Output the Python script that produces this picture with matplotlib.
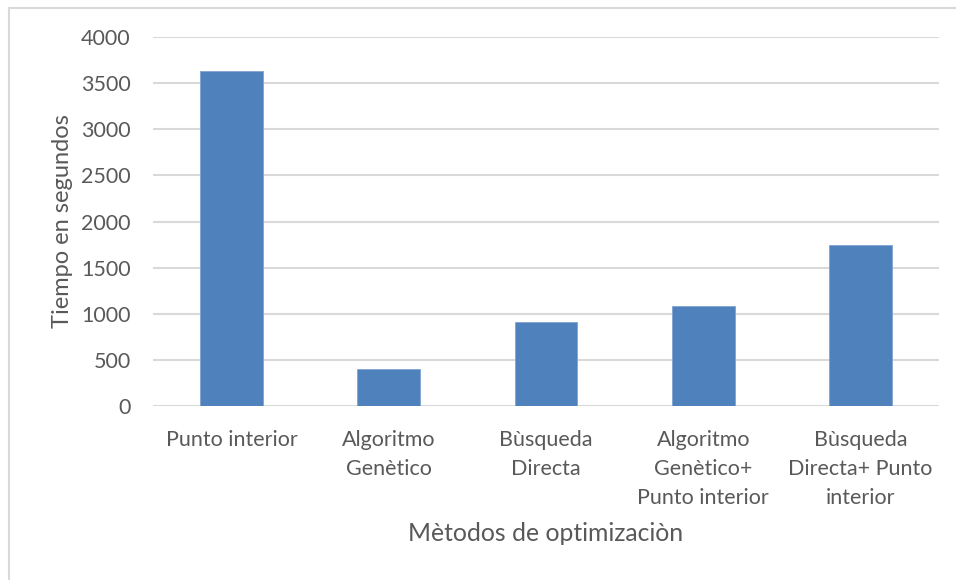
import matplotlib
matplotlib.use("Agg")
import matplotlib.pyplot as plt
from matplotlib.patches import Rectangle

plt.rcParams['font.family'] = ['Lato', 'DejaVu Sans']

categories = [
    "Punto interior",
    "Algoritmo\nGenètico",
    "Bùsqueda\nDirecta",
    "Algoritmo\nGenètico+\nPunto interior",
    "Bùsqueda\nDirecta+ Punto\ninterior",
]
tiempos = [3630, 400, 910, 1090, 1750]
yticks = [0, 500, 1000, 1500, 2000, 2500, 3000, 3500, 4000]

text_color = "#595959"
grid_color = "#D9D9D9"
bar_color = "#4F81BD"

fig = plt.figure(figsize=(9.56, 5.8), dpi=100)
ax = fig.add_axes([153 / 956, 1 - 406.3 / 580, (939 - 153) / 956, (406.3 - 36.7) / 580])

x = list(range(len(categories)))
ax.bar(x, tiempos, width=0.4, color=bar_color, edgecolor="#7FA3D0", linewidth=0.6, zorder=3)

ax.set_xlim(-0.5, len(categories) - 0.5)
ax.set_ylim(0, 4000)
ax.set_yticks(yticks)
ax.set_yticklabels([str(t) for t in yticks])
ax.set_xticks(x)
ax.set_xticklabels(categories, linespacing=1.58)

ax.grid(axis="y", color=grid_color, linewidth=1.5, zorder=0)
for s in ax.spines.values():
    s.set_visible(False)
ax.tick_params(axis="both", length=0, colors=text_color, labelsize=15.5)
ax.tick_params(axis="y", pad=16)
ax.tick_params(axis="x", pad=17)
for lbl in ax.get_xticklabels():
    lbl.set_verticalalignment("top")

ax.set_ylabel("Tiempo en segundos", color=text_color, fontsize=17, labelpad=6)
ax.set_xlabel("Mètodos de optimizaciòn", color=text_color, fontsize=17.8, labelpad=10)

# Chart area frame
fig.patches.append(Rectangle((9 / 956, -0.1), 1.2, 1.1 - 7.5 / 580,
                             transform=fig.transFigure, fill=False,
                             edgecolor=grid_color, linewidth=1.5))

fig.savefig("out.png", dpi=100, facecolor="white")
